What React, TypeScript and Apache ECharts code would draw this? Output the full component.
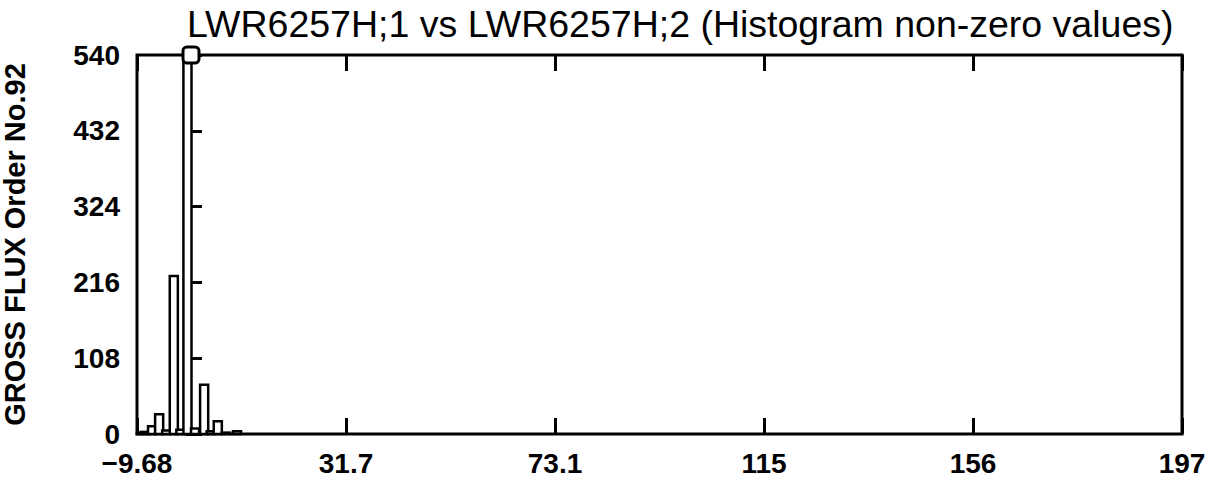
import React, { useEffect, useRef } from "react";
import * as echarts from "echarts";

const TITLE = "LWR6257H;1 vs LWR6257H;2 (Histogram non-zero values)";
const Y_NAME = "GROSS FLUX Order No.92";
const X_MIN = -9.68;
const X_MAX = 197;
const X_TICK_LABELS = ["\u22129.68", "31.7", "73.1", "115", "156", "197"];
const Y_MIN = 0;
const Y_MAX = 540;
const Y_STEP = 108;

// histogram bins (centre, count)
const BIN_CENTERS = [-8.9, -8.1, -6.7, -5.3, -3.9, -2.4, -1.1, 0.3, 1.8, 3.6, 4.9, 6.3, 7.9, 10.1];
const BIN_COUNTS = [2, 3, 11, 28, 5, 225, 6, 540, 8, 70, 4, 18, 2, 4];
const BIN_WIDTH = 1.6;
const PEAK_MARK = [[1.0, 540]];

export default function App() {
  const ref = useRef<HTMLDivElement>(null);
  useEffect(() => {
    if (!ref.current) return;
    const chart = echarts.init(ref.current, null, { renderer: "svg" });
    const labelFont = {
      fontFamily: "Liberation Sans, Arial, sans-serif",
      fontWeight: "bold" as const,
      fontSize: 28,
      color: "#000",
    };
    chart.setOption({
      animation: false,
      backgroundColor: "#fff",
      title: {
        text: TITLE,
        left: 182,
        top: 0,
        textStyle: {
          fontFamily: "Liberation Sans, Arial, sans-serif",
          fontWeight: "normal",
          fontSize: 37.5,
          color: "#000",
        },
      },
      grid: {
        left: 137,
        right: 36,
        top: 55,
        bottom: 52,
        containLabel: false,
        outerBoundsMode: "none",
        show: true,
        borderColor: "#000",
        borderWidth: 3,
        backgroundColor: "transparent",
      },
      xAxis: [
        {
          type: "value",
          min: X_MIN,
          max: X_MAX,
          axisLine: { show: false },
          axisTick: { show: false },
          axisLabel: { show: false },
          splitLine: { show: false },
        },
        {
          type: "category",
          data: X_TICK_LABELS,
          boundaryGap: false,
          position: "bottom",
          axisLine: { show: false },
          axisTick: { show: true, inside: true, length: 16, lineStyle: { color: "#000", width: 3 } },
          axisLabel: { ...labelFont, margin: 15 },
          splitLine: { show: false },
        },
        {
          type: "category",
          data: X_TICK_LABELS,
          boundaryGap: false,
          position: "top",
          axisLine: { show: false },
          axisTick: { show: true, inside: true, length: 16, lineStyle: { color: "#000", width: 3 } },
          axisLabel: { show: false },
          splitLine: { show: false },
        },
      ],
      yAxis: {
        type: "value",
        min: Y_MIN,
        max: Y_MAX,
        interval: Y_STEP,
        name: Y_NAME,
        nameLocation: "middle",
        nameGap: 108,
        nameRotate: 90,
        nameTextStyle: { ...labelFont, fontSize: 29 },
        axisLine: { show: false },
        axisTick: { show: true, inside: true, length: 16, lineStyle: { color: "#000", width: 3 } },
        axisLabel: { ...labelFont, margin: 17 },
        splitLine: { show: false },
      },
      series: [
        {
          type: "custom",
          xAxisIndex: 0,
          yAxisIndex: 0,
          data: BIN_CENTERS.map((c, i) => [c, BIN_COUNTS[i]]),
          renderItem: (params: any, api: any) => {
            const c = api.value(0);
            const v = api.value(1);
            const p0 = api.coord([c - BIN_WIDTH / 2, 0]);
            const p1 = api.coord([c + BIN_WIDTH / 2, v]);
            return {
              type: "rect",
              shape: { x: p0[0], y: p1[1], width: p1[0] - p0[0], height: p0[1] - p1[1] },
              style: { fill: "#fff", stroke: "#000", lineWidth: 2.5 },
            };
          },
          z: 2,
        },
        {
          type: "scatter",
          xAxisIndex: 0,
          yAxisIndex: 0,
          clip: false,
          symbol: "roundRect",
          symbolSize: 16,
          data: PEAK_MARK,
          itemStyle: { color: "#fff", borderColor: "#000", borderWidth: 3, opacity: 1 },
          z: 5,
        },
      ],
    });
    return () => chart.dispose();
  }, []);
  return (
    <div
      ref={ref}
      style={{ position: "fixed", left: 0, top: 0, width: 1218, height: 486, background: "#fff" }}
    />
  );
}
